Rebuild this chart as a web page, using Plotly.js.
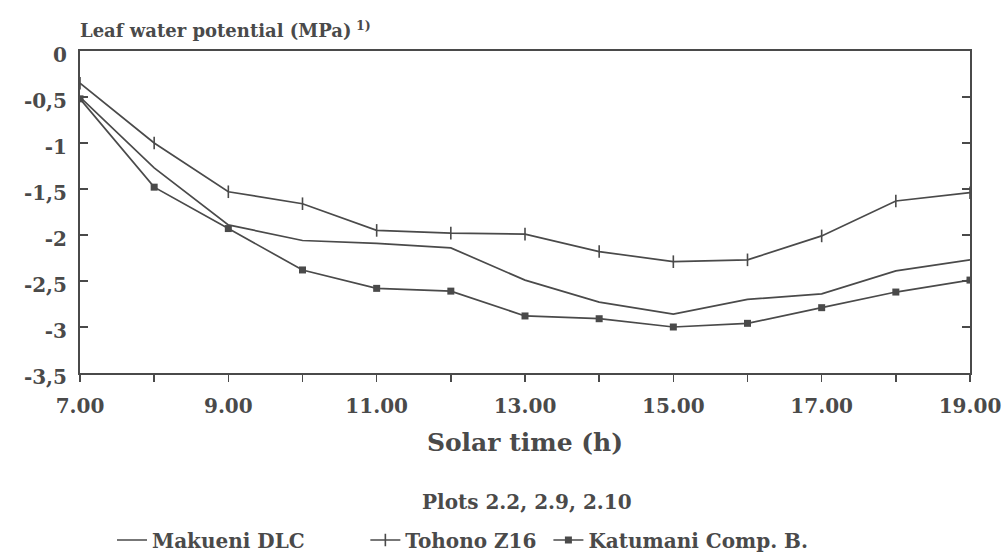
<!DOCTYPE html>
<html>
<head>
<meta charset="utf-8">
<script src="https://cdn.plot.ly/plotly-3.0.1.min.js"></script>
<style>html,body{margin:0;padding:0;background:#fff;}#chart{width:1007px;height:557px;}</style>
</head>
<body>
<div id="chart"></div>
<script>
const hours = [7, 8, 9, 10, 11, 12, 13, 14, 15, 16, 17, 18, 19];
const xTickVals = [7, 9, 11, 13, 15, 17, 19];
const xTickText = ["7.00", "9.00", "11.00", "13.00", "15.00", "17.00", "19.00"];
const yTickVals = [0, -0.5, -1, -1.5, -2, -2.5, -3, -3.5];
const yTickText = ["0", "-0,5", "-1", "-1,5", "-2", "-2,5", "-3", "-3,5"];
const seriesNames = ["Makueni DLC", "Tohono Z16", "Katumani Comp. B."];
const makueni = [-0.50, -1.27, -1.89, -2.06, -2.09, -2.14, -2.49, -2.73, -2.86, -2.70, -2.64, -2.39, -2.27];
const tohono = [-0.35, -1.00, -1.53, -1.66, -1.95, -1.98, -1.99, -2.18, -2.29, -2.27, -2.01, -1.63, -1.54];
const katumani = [-0.52, -1.48, -1.93, -2.38, -2.58, -2.61, -2.88, -2.91, -3.00, -2.96, -2.79, -2.62, -2.49];

const ink = '#4a4a4a';
const fam = '"DejaVu Serif", serif';
const f = (size) => ({family: fam, size: size, color: ink, weight: 'bold'});
const pad = (n) => '\u00a0'.repeat(n);

const traces = [
  {x: hours, y: makueni, name: seriesNames[0] + pad(8), mode: 'lines',
   line: {color: ink, width: 1.7}},
  {x: hours, y: tohono, name: seriesNames[1] + pad(1), mode: 'lines+markers',
   line: {color: ink, width: 1.7},
   marker: {symbol: 'line-ns-open', size: 9, color: ink, line: {color: ink, width: 1.6}}},
  {x: hours, y: katumani, name: seriesNames[2], mode: 'lines+markers',
   line: {color: ink, width: 1.7},
   marker: {symbol: 'square', size: 7, color: ink}}
];

const layout = {
  width: 1007, height: 557,
  margin: {l: 80, r: 37, t: 51, b: 184},
  paper_bgcolor: '#fff', plot_bgcolor: '#fff',
  font: f(17),
  showlegend: true,
  legend: {orientation: 'h', x: (112 - 80) / 890, xanchor: 'left', yref: 'container', y: 1 - 540/557, yanchor: 'middle',
           font: f(20), itemwidth: 30, tracegroupgap: 0},
  title: {text: 'Leaf water potential (MPa)<sup> 1)</sup>', x: 80/1007, xanchor: 'left',
          yref: 'container', y: 1 - 31/557, yanchor: 'middle', font: f(18)},
  xaxis: {range: [7, 19], tickvals: xTickVals, ticktext: xTickText, automargin: false,
          showgrid: false, zeroline: false, showline: true, linecolor: ink, linewidth: 2,
          mirror: true, ticks: 'outside', ticklen: 7, tickcolor: ink, tickwidth: 1.5,
          ticklabelstandoff: 7,
          minor: {tickvals: [8, 10, 12, 14, 16, 18], ticks: 'outside', ticklen: 7, tickcolor: ink, tickwidth: 1.5},
          tickfont: f(20),
          title: {text: 'Solar time (h)', standoff: 16, font: f(25)}},
  yaxis: {range: [-3.5, 0], tickvals: yTickVals, ticktext: yTickText, automargin: false,
          showgrid: false, zeroline: false, showline: true, linecolor: ink, linewidth: 2,
          mirror: 'ticks', ticks: 'inside', ticklen: 8, tickcolor: ink, tickwidth: 1.5,
          ticklabelstandoff: 7, ticklabelshift: 4,
          tickfont: f(20)},
  annotations: [
    {text: 'Plots 2.2, 2.9, 2.10', xref: 'paper', yref: 'paper', x: (527 - 80) / 890, y: -(502 - 373) / 322,
     xanchor: 'center', yanchor: 'middle', showarrow: false, font: f(20)}
  ]
};

Plotly.newPlot('chart', traces, layout, {displayModeBar: false, staticPlot: true});
</script>
</body>
</html>
